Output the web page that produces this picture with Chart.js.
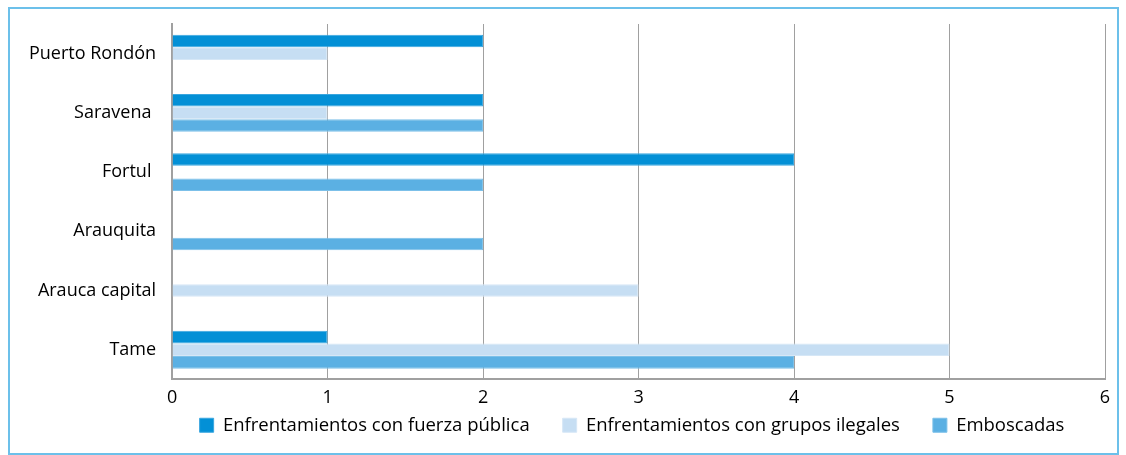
<!DOCTYPE html>
<html>
<head>
<meta charset="utf-8">
<script src="https://cdn.jsdelivr.net/npm/chart.js@4"></script>
<style>
    html, body { margin: 0; padding: 0; background: #ffffff; }
    #wrap { position: relative; width: 1126px; height: 455px; }
    #marco {
        position: absolute; left: 8px; top: 7px; width: 1107px; height: 444px;
        border: 2px solid #6cc0ea; pointer-events: none;
    }
</style>
</head>
<body>
<div id="wrap">
    <canvas id="grafico" width="1126" height="455"></canvas>
    <div id="marco"></div>
</div>
<script>
// municipios (de arriba hacia abajo)
const municipios = ["Puerto Rondón", "Saravena ", "Fortul ", "Arauquita", "Arauca capital", "Tame"];

// acciones por municipio
const fuerzaPublica = [2, 2, 4, null, null, 1];
const gruposIlegales = [1, 1, null, null, 3, 5];
const emboscadas = [null, 2, 2, 2, null, 4];

const ticksX = [0, 1, 2, 3, 4, 5, 6];

const fuente = "'Open Sans', sans-serif";

// la leyenda va pegada a las etiquetas del eje y algo corrida a la derecha
const ajusteLeyenda = {
    id: "ajusteLeyenda",
    afterInit(chart) {
        const leyenda = chart.legend;
        const fitOriginal = leyenda.fit.bind(leyenda);
        leyenda.fit = function () {
            fitOriginal();
            this.height = 18;
        };
    },
    afterLayout(chart) {
        const l = chart.legend;
        l.top -= 34;
        l.bottom += 20;
        l.left += 69;
        l.right += 69;
    }
};

const grafico = new Chart(document.getElementById("grafico"), {
    type: "bar",
    data: {
        labels: municipios,
        datasets: [
            {
                label: "Enfrentamientos con fuerza pública",
                data: fuerzaPublica,
                backgroundColor: "#0390d6",
                borderColor: "#3aa6df",
                borderWidth: 1
            },
            {
                label: "Enfrentamientos con grupos ilegales",
                data: gruposIlegales,
                backgroundColor: "#c6def3",
                borderColor: "#d6e7f6",
                borderWidth: 1
            },
            {
                label: "Emboscadas",
                data: emboscadas,
                backgroundColor: "#5bb0e3",
                borderColor: "#7cc0e9",
                borderWidth: 1
            }
        ]
    },
    plugins: [ajusteLeyenda],
    options: {
        indexAxis: "y",
        responsive: false,
        animation: false,
        layout: { padding: { top: 24, right: 21, left: 21, bottom: 20 } },
        datasets: { bar: { barPercentage: 1, categoryPercentage: 0.64 } },
        scales: {
            x: {
                min: 0,
                max: 6,
                afterBuildTicks: (eje) => { eje.ticks = ticksX.map(v => ({ value: v })); },
                grid: { color: "#a0a0a0", lineWidth: 1, drawTicks: false },
                border: { color: "#a0a0a0", width: 2 },
                ticks: { color: "#000", font: { family: fuente, size: 18 }, padding: 8 }
            },
            y: {
                grid: { display: false },
                border: { color: "#a0a0a0", width: 2 },
                ticks: { color: "#000", font: { family: fuente, size: 18 }, padding: 8 }
            }
        },
        plugins: {
            tooltip: { enabled: false },
            legend: {
                position: "bottom",
                labels: {
                    color: "#000",
                    font: { family: fuente, size: 18.5 },
                    boxWidth: 14,
                    boxHeight: 14,
                    padding: 33
                }
            }
        }
    }
});
</script>
</body>
</html>
